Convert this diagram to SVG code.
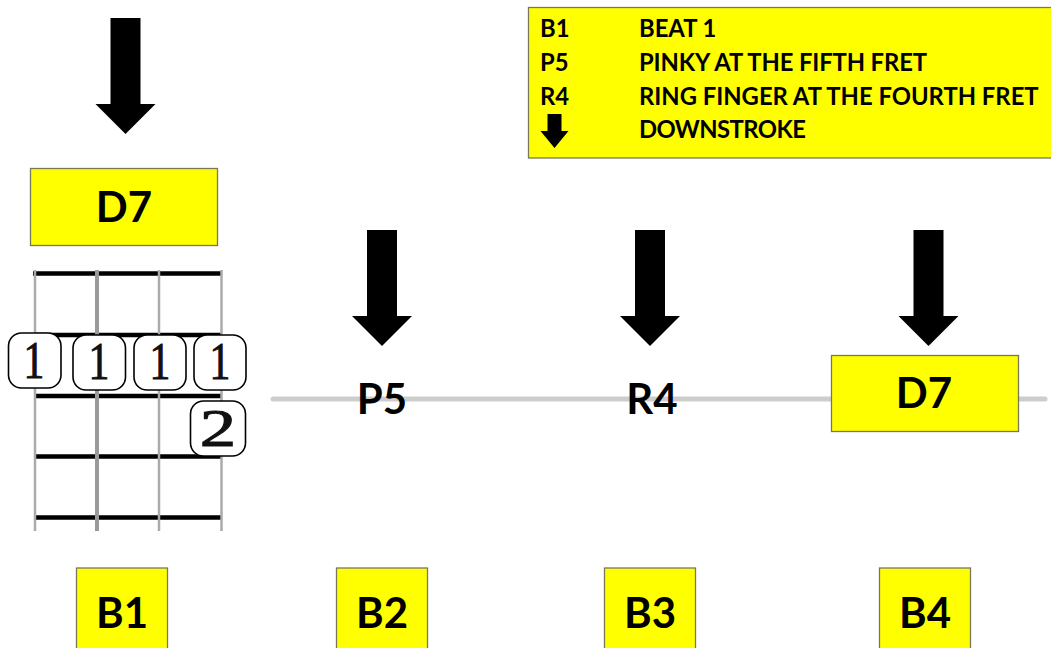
<svg xmlns="http://www.w3.org/2000/svg" width="1051" height="648" viewBox="0 0 1051 648">
<defs>
<style>
.box{fill:#ffff00;stroke:#77775a;stroke-width:1.3}
.lbl{font-family:"Lato","Open Sans","Liberation Sans",sans-serif;font-weight:700;fill:#000;text-anchor:middle;font-size:42px}
.leg{font-family:"Lato","Open Sans","Liberation Sans",sans-serif;font-weight:700;fill:#000;font-size:23.8px}
.fret{stroke:#000;stroke-width:4.5;fill:none}
.str{stroke:#ababab;stroke-width:2.5;fill:none}
.fing{fill:#fff;stroke:#000;stroke-width:1.6}
.num{font-family:"Liberation Serif",serif;fill:#111;stroke:#111;stroke-width:1;text-anchor:middle;font-size:52px}
</style>
<path id="arrow" d="M-15 0H15V86H30L0 116L-30 86H-15Z" fill="#000"/>
</defs>
<g id="connectors">
<line x1="273" y1="399" x2="1045" y2="399" stroke="#cdcdcd" stroke-width="5" stroke-linecap="round"/>
</g>
<g id="arrow-b1"><use href="#arrow" x="125.500" y="18"/></g>
<g id="arrow-b2"><use href="#arrow" x="382" y="230"/></g>
<g id="arrow-b3"><use href="#arrow" x="650" y="230"/></g>
<g id="arrow-b4"><use href="#arrow" x="928.500" y="230"/></g>
<g id="legend">
<rect class="box" x="528.500" y="7.500" width="530" height="150.500"/>
<text class="leg" x="540" y="37">B1</text><text class="leg" x="639" y="37">BEAT 1</text>
<text class="leg" x="540" y="71">P5</text><text class="leg" x="639" y="71" textLength="288">PINKY AT THE FIFTH FRET</text>
<text class="leg" x="540" y="105">R4</text><text class="leg" x="639" y="105">RING FINGER AT THE FOURTH FRET</text>
<path d="M547.500 114H561.500V131H568.500L554.500 148L540.500 131H547.500Z" fill="#000"/>
<text class="leg" x="639" y="138" textLength="167">DOWNSTROKE</text>
</g>
<g id="chord-d7">
<rect class="box" x="30.500" y="168.500" width="187" height="77"/>
<text class="lbl" x="124" y="222">D7</text>
</g>
<g id="fretboard">
<path class="fret" d="M33 273.500H222M35 335H222M35 396H222M35 456.500H222M35 517.500H222"/>
<path class="str" d="M35 270V531M159 270V531M221.500 270V531"/>
<path d="M97 270V531" stroke="#9a9a9a" stroke-width="4" fill="none"/>
</g>
<g id="finger-1"><rect class="fing" x="8.500" y="333" width="52.500" height="55" rx="13"/><text class="num" transform="translate(34 378) scale(.8 1)">1</text></g>
<g id="finger-2"><rect class="fing" x="73" y="335" width="52.500" height="55" rx="13"/><text class="num" transform="translate(99 379) scale(.8 1)">1</text></g>
<g id="finger-3"><rect class="fing" x="134" y="335" width="52" height="55" rx="13"/><text class="num" transform="translate(160 379) scale(.8 1)">1</text></g>
<g id="finger-4"><rect class="fing" x="194" y="335" width="52" height="55" rx="13"/><text class="num" transform="translate(220 379) scale(.8 1)">1</text></g>
<g id="finger-5"><rect class="fing" x="190.500" y="401" width="55" height="55" rx="13"/><text class="num" transform="translate(218 446) scale(1.4 1)">2</text></g>
<g id="note-p5"><text class="lbl" x="382" y="414">P5</text></g>
<g id="note-r4"><text class="lbl" x="652" y="414">R4</text></g>
<g id="chord-d7-b4">
<rect class="box" x="831.500" y="355.500" width="187" height="76"/>
<text class="lbl" x="924" y="408">D7</text>
</g>
<g id="beat-1"><rect class="box" x="76.500" y="568" width="91" height="90"/><text class="lbl" x="122" y="628">B1</text></g>
<g id="beat-2"><rect class="box" x="336.500" y="568" width="91" height="90"/><text class="lbl" x="382" y="628">B2</text></g>
<g id="beat-3"><rect class="box" x="604.500" y="568" width="91" height="90"/><text class="lbl" x="650" y="628">B3</text></g>
<g id="beat-4"><rect class="box" x="879.500" y="568" width="91" height="90"/><text class="lbl" x="925" y="628">B4</text></g>
</svg>
